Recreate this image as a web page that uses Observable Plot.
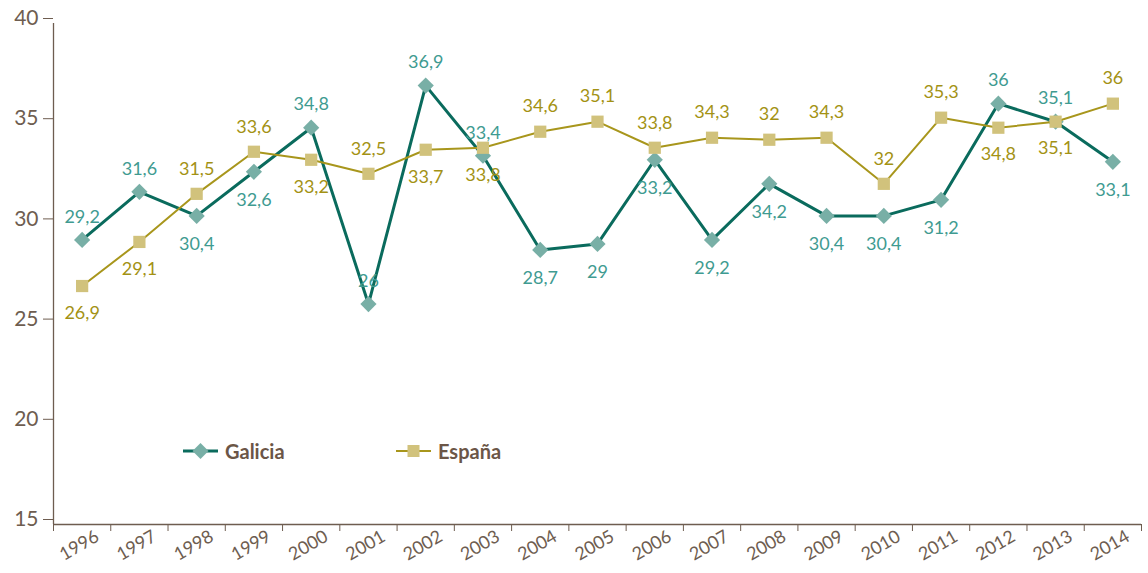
<!DOCTYPE html>
<html>
<head>
<meta charset="utf-8">
<script src="https://cdn.jsdelivr.net/npm/d3@7"></script>
<script src="https://cdn.jsdelivr.net/npm/@observablehq/plot@0.6"></script>
<style>
  body { margin: 0; background: #fff; font-family: Lato, "Open Sans", sans-serif; }
  #wrap { position: relative; width: 1148px; height: 573px; }
  .legend { position: absolute; top: 438px; display: flex; align-items: center; font-weight: 700; font-size: 20px; color: #6b5647; }
  .legend svg { margin-right: 7px; }
</style>
</head>
<body>
<div id="wrap"></div>
<script>
const years = [1996,1997,1998,1999,2000,2001,2002,2003,2004,2005,2006,2007,2008,2009,2010,2011,2012,2013,2014];
const galiciaValues = [29.2,31.6,30.4,32.6,34.8,26,36.9,33.4,28.7,29,33.2,29.2,32,30.4,30.4,31.2,36,35.1,33.1];
const galiciaLabels = ["29,2","31,6","30,4","32,6","34,8","26","36,9","33,4","28,7","29","33,2","29,2","34,2","30,4","30,4","31,2","36","35,1","33,1"];
const galiciaLabelPos = ["above","above","below","below","above","above","above","above","below","below","below","below","below","below","below","below","above","above","below"];
const espanaValues = [26.9,29.1,31.5,33.6,33.2,32.5,33.7,33.8,34.6,35.1,33.8,34.3,34.2,34.3,32,35.3,34.8,35.1,36];
const espanaLabels = ["26,9","29,1","31,5","33,6","33,2","32,5","33,7","33,8","34,6","35,1","33,8","34,3","32","34,3","32","35,3","34,8","35,1","36"];
const espanaLabelPos = ["below","below","above","above","below","above","below","below","above","above","above","above","above","above","above","above","below","below","above"];
const yTicks = [15,20,25,30,35,40];

const brown = "#6e5d50";
const gLine = "#0a6b5d", gDot = "#78afa6", gText = "#3f9b91";
const eLine = "#a8961c", eDot = "#d1c27c", eText = "#a39214";

const galicia = years.map((y,i) => ({year:y, value:galiciaValues[i], label:galiciaLabels[i], pos:galiciaLabelPos[i]}));
const espana = years.map((y,i) => ({year:y, value:espanaValues[i], label:espanaLabels[i], pos:espanaLabelPos[i]}));
const boundaries = d3.range(years.length + 1).map(i => years[0] - 0.5 + i);

const chart = Plot.plot({
  width: 1148, height: 573,
  marginLeft: 53, marginRight: 7, marginTop: 23, marginBottom: 49,
  style: {fontFamily: "Lato, 'Open Sans', sans-serif", color: brown, background: "white"},
  x: {domain: [boundaries[0], boundaries[boundaries.length-1]], axis: null},
  y: {domain: [15, 40], axis: null},
  marks: [
    Plot.axisY({ticks: yTicks, tickSize: 10, tickPadding: 5, fontSize: 21, dy: -5, stroke: brown, fill: brown, label: null}),
    Plot.axisX({ticks: boundaries, tickSize: 7, tickFormat: () => "", stroke: brown, label: null}),
    Plot.ruleX([boundaries[0]], {stroke: brown, strokeWidth: 1.3}),
    Plot.ruleY([15], {stroke: brown, strokeWidth: 1.3}),
    Plot.text(years, {x: d => d, frameAnchor: "bottom", dy: 26, rotate: -30, textAnchor: "middle", fontSize: 18, fill: brown, text: d => String(d)}),
    Plot.line(galicia, {x: "year", y: "value", stroke: gLine, strokeWidth: 3}),
    Plot.dot(galicia, {x: "year", y: "value", symbol: "diamond2", r: 7.3, fill: gDot, stroke: "none"}),
    Plot.line(espana, {x: "year", y: "value", stroke: eLine, strokeWidth: 2}),
    Plot.dot(espana, {x: "year", y: "value", symbol: "square", r: 6.9, fill: eDot, stroke: "none"}),
    Plot.text(galicia, {filter: d => d.pos === "above", x: "year", y: "value", text: "label", dy: -23, fontSize: 18, fill: gText}),
    Plot.text(galicia, {filter: d => d.pos === "below", x: "year", y: "value", text: "label", dy: 28, fontSize: 18, fill: gText}),
    Plot.text(espana, {filter: d => d.pos === "above", x: "year", y: "value", text: "label", dy: -25, fontSize: 18, fill: eText}),
    Plot.text(espana, {filter: d => d.pos === "below", x: "year", y: "value", text: "label", dy: 27, fontSize: 18, fill: eText})
  ]
});
const wrap = document.getElementById("wrap");
wrap.appendChild(chart);

const legendItems = [
  {name: "Galicia", left: 183, line: gLine, fill: gDot, lw: 3, shape: "diamond"},
  {name: "España", left: 396, line: eLine, fill: eDot, lw: 2, shape: "square"}
];
for (const it of legendItems) {
  const div = document.createElement("div");
  div.className = "legend";
  div.style.left = it.left + "px";
  const shape = it.shape === "diamond"
    ? `<path d="M17.5,5 L25.5,13 L17.5,21 L9.5,13 Z" fill="${it.fill}"/>`
    : `<rect x="11.5" y="7" width="12" height="12" fill="${it.fill}"/>`;
  div.innerHTML = `<svg width="35" height="26"><line x1="0" x2="35" y1="13" y2="13" stroke="${it.line}" stroke-width="${it.lw}"/>${shape}</svg><span>${it.name}</span>`;
  wrap.appendChild(div);
}
</script>
</body>
</html>
